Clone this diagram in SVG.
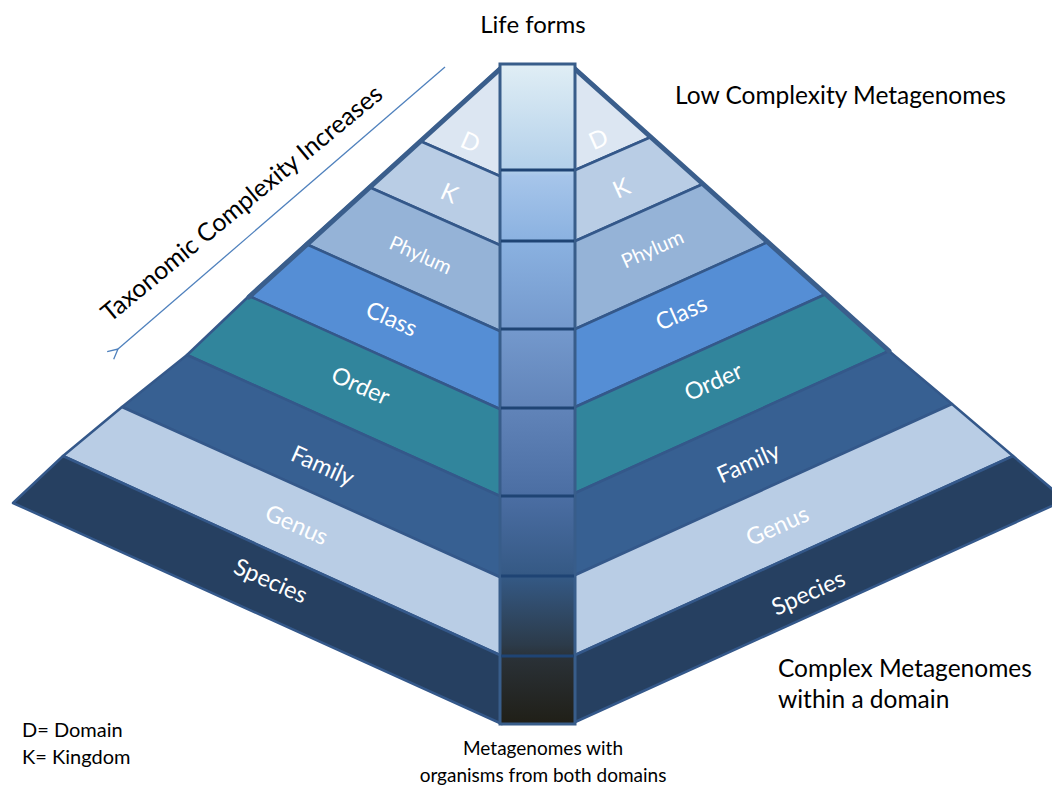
<svg xmlns="http://www.w3.org/2000/svg" width="1052" height="789" viewBox="0 0 1052 789">
  <defs>
    <linearGradient id="colGrad" x1="0" y1="64" x2="0" y2="724" gradientUnits="userSpaceOnUse">
      <stop offset="0" stop-color="#e0eef5"/>
      <stop offset="0.16" stop-color="#b3d0ea"/>
      <stop offset="0.17" stop-color="#a6c5ea"/>
      <stop offset="0.27" stop-color="#8ab1e0"/>
      <stop offset="0.40" stop-color="#7499cd"/>
      <stop offset="0.52" stop-color="#6184b9"/>
      <stop offset="0.66" stop-color="#4a6da2"/>
      <stop offset="0.78" stop-color="#345883"/>
      <stop offset="0.88" stop-color="#2c3b4a"/>
      <stop offset="0.90" stop-color="#2a3137"/>
      <stop offset="1" stop-color="#201f17"/>
    </linearGradient>
    <marker id="openArrow" viewBox="0 0 12 12" refX="1" refY="6" markerWidth="12" markerHeight="12" markerUnits="userSpaceOnUse" orient="auto">
      <path d="M11,1 L1,6 L11,11" fill="none" stroke="#4f81bd" stroke-width="1.3"/>
    </marker>
  </defs>
  <style>
    .band { stroke: #34588a; stroke-width: 2.5; stroke-linejoin: round; }
    .d { fill: #dce6f2; }
    .k { fill: #b9cde5; }
    .phylum { fill: #95b3d7; }
    .class { fill: #558ed5; }
    .order { fill: #31859c; }
    .family { fill: #376092; }
    .genus { fill: #b9cde5; }
    .species { fill: #264061; }
    .lbl { font-family: Lato, "Open Sans", sans-serif; fill: #ffffff; text-anchor: middle; dominant-baseline: central; }
    .txt { font-family: Lato, "Open Sans", sans-serif; fill: #000000; }
    .edge { stroke: #3a5e8c; stroke-width: 5; stroke-linecap: round; fill: none; }
    .cell { stroke: #1f4474; stroke-width: 3; }
  </style>

  <rect width="1052" height="789" fill="#ffffff"/>

  <!-- left face bands -->
  <g id="left-domain"><polygon class="band d" points="500,68 420,141 502,177 502,68"/><text class="lbl" font-size="24" transform="translate(471,141) rotate(24)">D</text></g>
  <g id="left-kingdom"><polygon class="band k" points="420,141 502,177 502,246 369,187"/><text class="lbl" font-size="24" transform="translate(450,192) rotate(24)">K</text></g>
  <g id="left-phylum"><polygon class="band phylum" points="369,187 502,246 502,332 306,244"/><text class="lbl" font-size="20" transform="translate(421,254) rotate(24)">Phylum</text></g>
  <g id="left-class"><polygon class="band class" points="306,244 502,332 502,410 249,296"/><text class="lbl" font-size="23.5" transform="translate(392,318) rotate(24)">Class</text></g>
  <g id="left-order"><polygon class="band order" points="249,296 502,410 502,497 187,355"/><text class="lbl" font-size="23.5" transform="translate(361,385) rotate(24)">Order</text></g>
  <g id="left-family"><polygon class="band family" points="187,355 502,497 502,578 122,407"/><text class="lbl" font-size="23.5" transform="translate(323,465) rotate(24)">Family</text></g>
  <g id="left-genus"><polygon class="band genus" points="122,407 502,578 502,656 63,456"/><text class="lbl" font-size="23.5" transform="translate(297,524) rotate(24)">Genus</text></g>
  <g id="left-species"><polygon class="band species" points="63,456 502,656 502,724 13,503"/><text class="lbl" font-size="23.5" transform="translate(271,580) rotate(24)">Species</text></g>

  <!-- right face bands -->
  <g id="right-domain"><polygon class="band d" points="575,68 651,137 573,171 573,68"/><text class="lbl" font-size="24" transform="translate(598,138) rotate(-24)">D</text></g>
  <g id="right-kingdom"><polygon class="band k" points="573,171 651,137 703,184 573,242"/><text class="lbl" font-size="24" transform="translate(621,187) rotate(-24)">K</text></g>
  <g id="right-phylum"><polygon class="band phylum" points="573,242 703,184 768,242 573,330"/><text class="lbl" font-size="20" transform="translate(652,248) rotate(-24)">Phylum</text></g>
  <g id="right-class"><polygon class="band class" points="573,330 768,242 826,294 573,408"/><text class="lbl" font-size="23.5" transform="translate(681,312) rotate(-24)">Class</text></g>
  <g id="right-order"><polygon class="band order" points="573,408 826,294 889,351 573,494"/><text class="lbl" font-size="23.5" transform="translate(713,381) rotate(-24)">Order</text></g>
  <g id="right-family"><polygon class="band family" points="573,494 889,351 952,404 573,576"/><text class="lbl" font-size="23.5" transform="translate(748,462) rotate(-24)">Family</text></g>
  <g id="right-genus"><polygon class="band genus" points="573,576 952,404 1013,456 573,656"/><text class="lbl" font-size="23.5" transform="translate(777,525) rotate(-24)">Genus</text></g>
  <g id="right-species"><polygon class="band species" points="573,656 1013,456 1065,500 573,723"/><text class="lbl" font-size="23.5" transform="translate(808,592) rotate(-24)">Species</text></g>

  <!-- heavy upper edges of the pyramid -->
  <line class="edge" x1="500" y1="69" x2="249" y2="297"/>
  <line class="edge" x1="575" y1="69" x2="889" y2="351"/>

  <!-- central column -->
  <g id="column">
    <rect x="500" y="64" width="75" height="660" fill="url(#colGrad)" stroke="#385d8a" stroke-width="3"/>
    <line class="cell" x1="501" y1="170" x2="574" y2="170"/>
    <line class="cell" x1="501" y1="241" x2="574" y2="241"/>
    <line class="cell" x1="501" y1="329" x2="574" y2="329"/>
    <line class="cell" x1="501" y1="408" x2="574" y2="408"/>
    <line class="cell" x1="501" y1="496" x2="574" y2="496"/>
    <line class="cell" x1="501" y1="576" x2="574" y2="576"/>
    <line class="cell" x1="501" y1="656" x2="574" y2="656"/>
  </g>

  <!-- direction arrow -->
  <g id="connectors">
    <line x1="445" y1="67" x2="118" y2="349" stroke="#4f81bd" stroke-width="1.3" marker-end="url(#openArrow)"/>
  </g>

  <g id="label-complexity">
    <text class="txt" font-size="25" transform="translate(110,323) rotate(-39.5)">Taxonomic Complexity Increases</text>
  </g>
  <g id="label-life"><text class="txt" font-size="24" x="533" y="33" text-anchor="middle">Life forms</text></g>
  <g id="label-low"><text class="txt" font-size="24.5" x="675" y="104">Low Complexity Metagenomes</text></g>
  <g id="label-complex">
    <text class="txt" font-size="24.5" x="778" y="677">Complex Metagenomes</text>
    <text class="txt" font-size="24.5" x="778" y="708">within a domain</text>
  </g>
  <g id="label-both">
    <text class="txt" font-size="19" x="543" y="755" text-anchor="middle">Metagenomes with</text>
    <text class="txt" font-size="19" x="543" y="782" text-anchor="middle">organisms from both domains</text>
  </g>
  <g id="legend">
    <text class="txt" font-size="20" x="22" y="737">D= Domain</text>
    <text class="txt" font-size="20" x="22" y="764">K= Kingdom</text>
  </g>
</svg>
